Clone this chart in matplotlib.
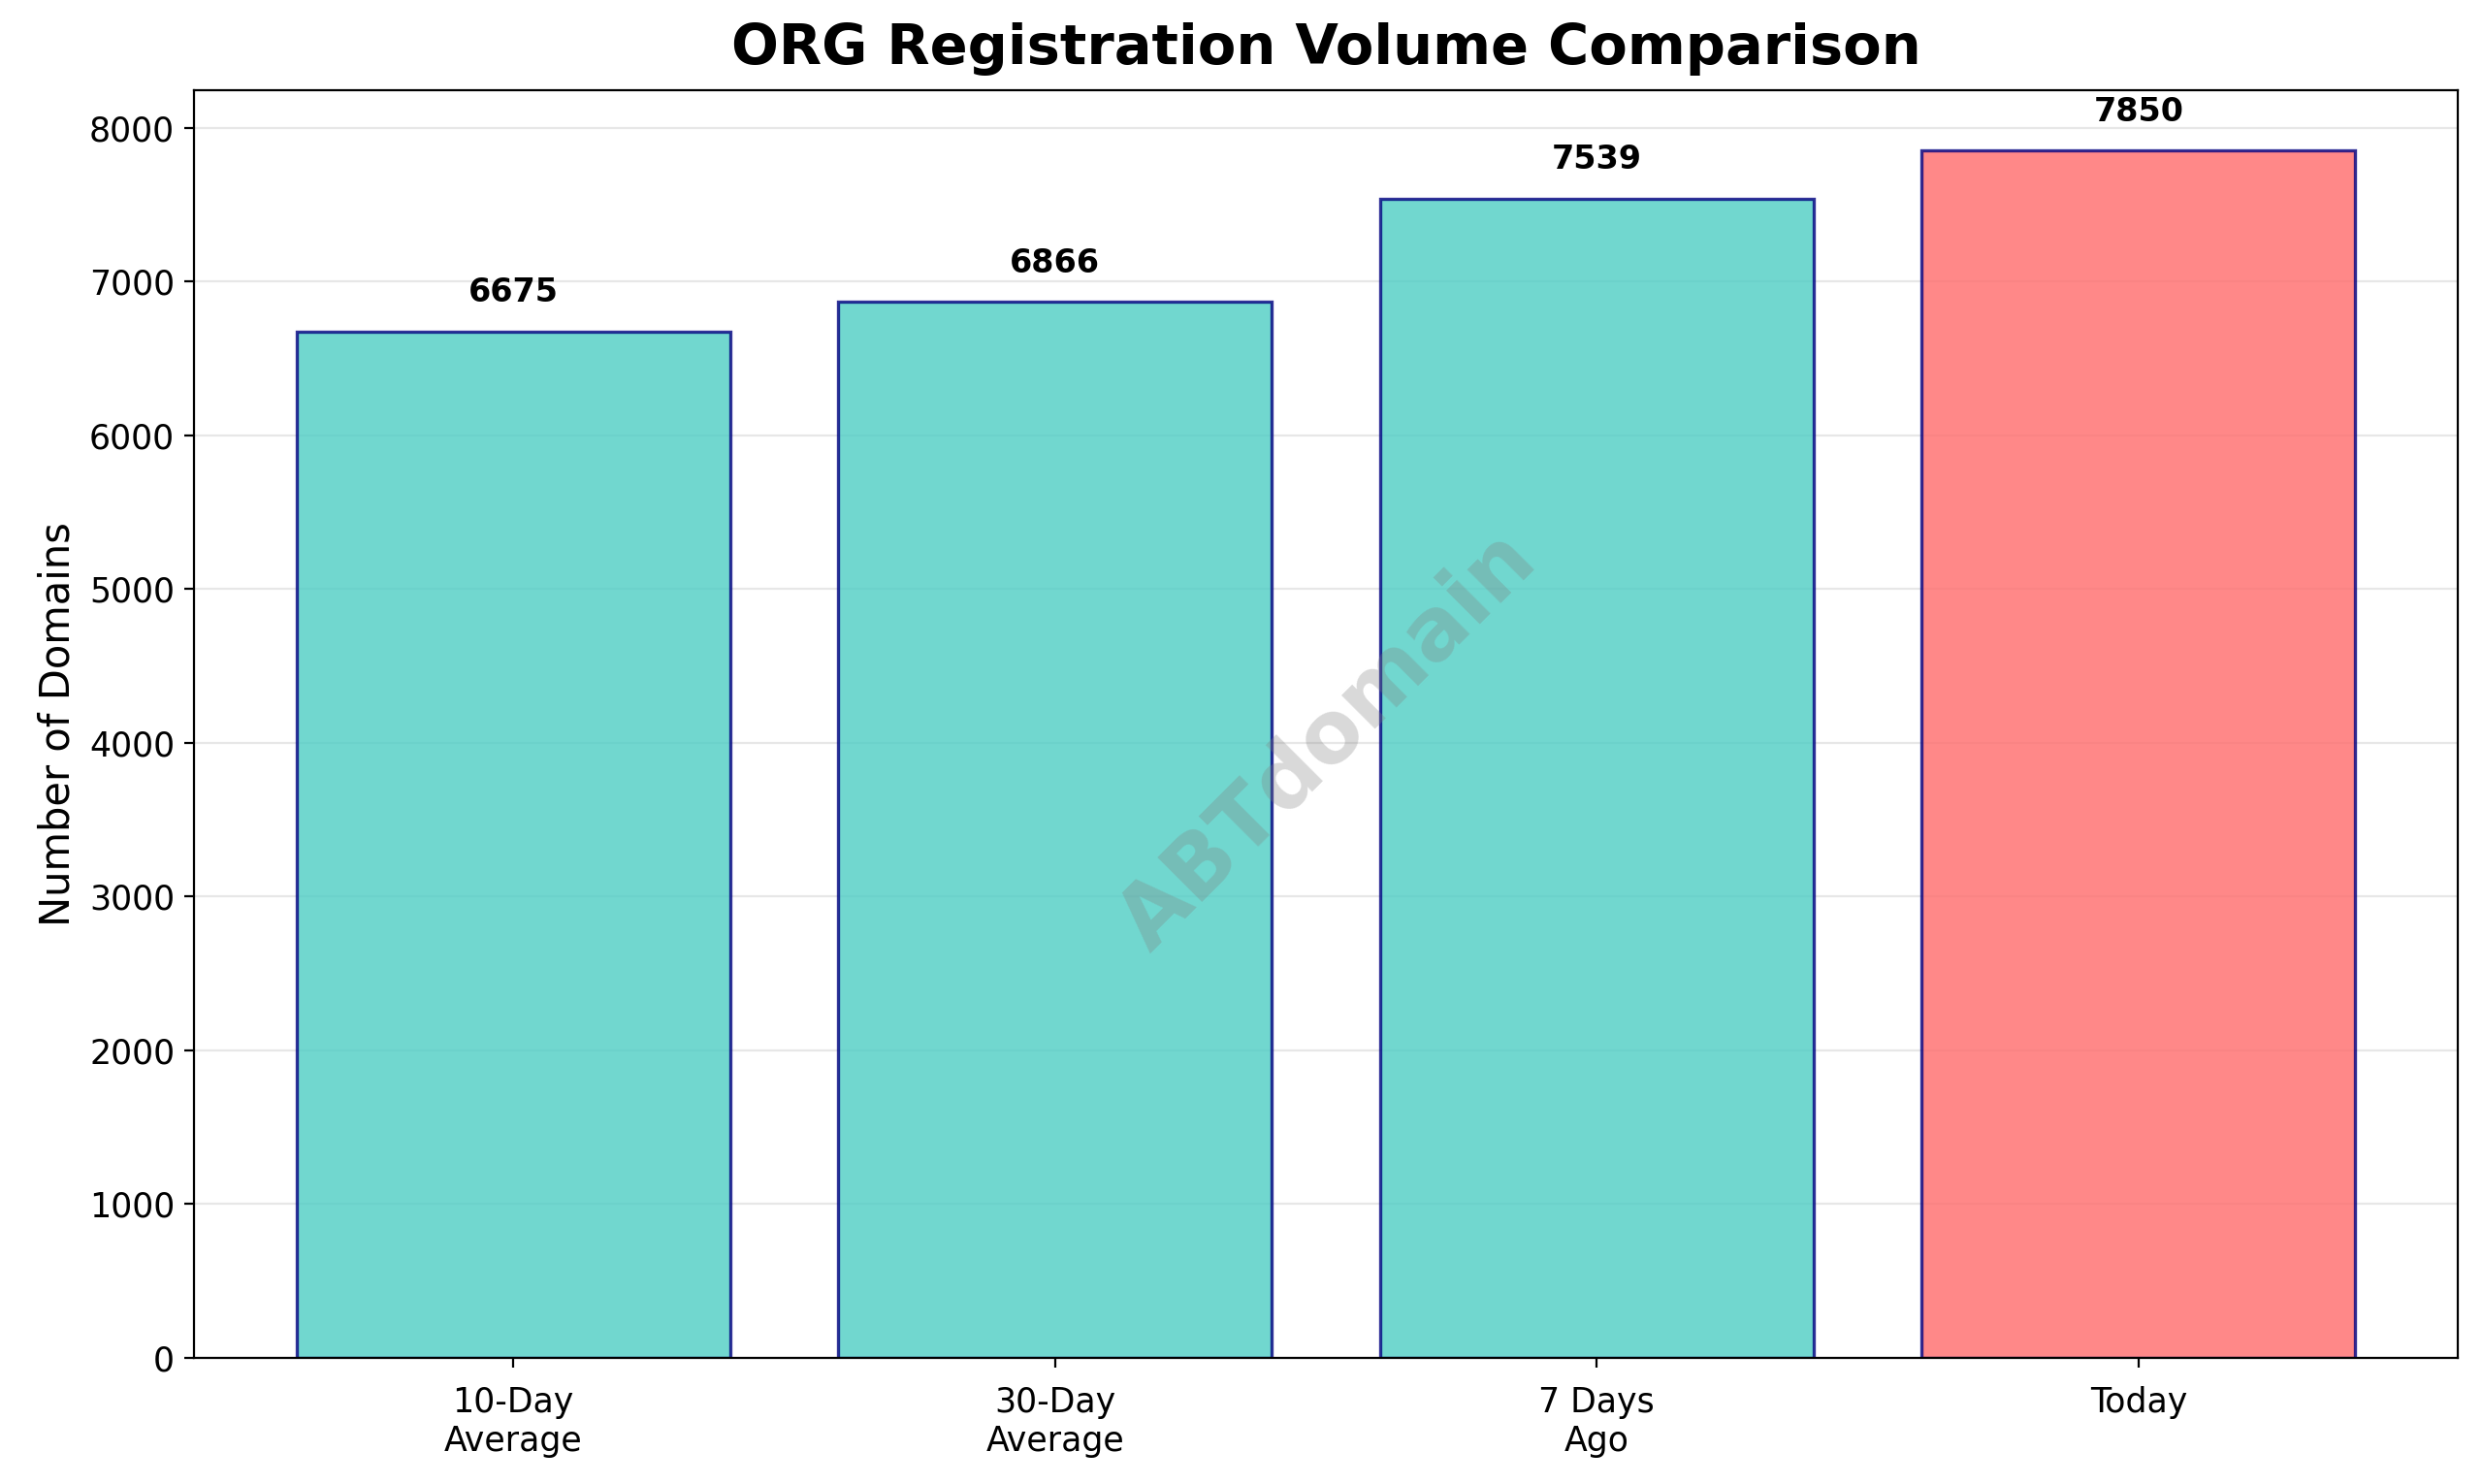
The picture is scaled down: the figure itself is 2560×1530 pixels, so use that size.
import matplotlib.pyplot as plt

categories = ["10-Day\nAverage", "30-Day\nAverage", "7 Days\nAgo", "Today"]
values = [6675, 6866, 7539, 7850]
colors = ["#4ECDC4", "#4ECDC4", "#4ECDC4", "#FF6B6B"]

fig = plt.figure(figsize=(12.8, 7.65), dpi=200)
ax = fig.add_axes([0.078, 0.085, 0.912, 0.854])

bars = ax.bar(categories, values, color=colors, alpha=0.8, edgecolor="navy", linewidth=1.2)
for b, v in zip(bars, values):
    ax.text(b.get_x() + b.get_width() / 2, v + 150, f"{v}", ha="center", va="bottom",
            fontsize=12, fontweight="bold")

ax.set_title("ORG Registration Volume Comparison", fontsize=20.7, fontweight="bold", pad=10)
ax.set_ylabel("Number of Domains", fontsize=15)
ax.tick_params(labelsize=12.5)
ax.tick_params(axis="x", pad=7)
ax.set_ylim(0, 8242)
ax.grid(axis="y", alpha=0.3)
ax.set_axisbelow(True)

fig.text(0.535, 0.5, "ABTdomain", fontsize=32, color="gray", alpha=0.3,
         fontweight="bold", rotation=45, ha="center", va="center")

fig.savefig("out.png", dpi=200)
